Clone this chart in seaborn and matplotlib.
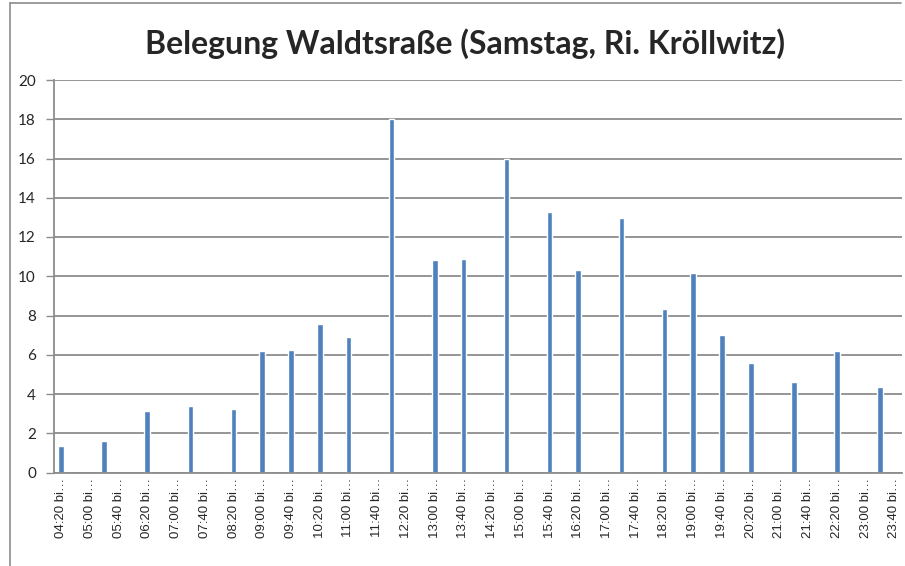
"""
Belegung Waldtstraße, Samstag, Richtung Kröllwitz – Balken je 20-Minuten-Slot.
"""

import matplotlib
matplotlib.use("Agg")
import matplotlib.pyplot as plt
import seaborn as sns
import pandas as pd

# Alle Slots (20 Minuten) von 04:20 bis 23:40
slots = [f"{(260 + 20 * i) // 60:02d}:{(260 + 20 * i) % 60:02d}" for i in range(59)]

# Slots mit Messwert und deren Belegung
bar_slots = [
    "04:20", "05:20", "06:20", "07:20", "08:20", "09:00", "09:40", "10:20",
    "11:00", "12:00", "13:00", "13:40", "14:40", "15:40", "16:20", "17:20",
    "18:20", "19:00", "19:40", "20:20", "21:20", "22:20", "23:20",
]
bar_values = [
    1.34, 1.63, 3.15, 3.39, 3.22, 6.17, 6.26, 7.58,
    6.9, 18.0, 10.82, 10.89, 16.0, 13.28, 10.33, 12.99,
    8.34, 10.17, 7.0, 5.56, 4.6, 6.19, 4.34,
]

y_ticks = [0, 2, 4, 6, 8, 10, 12, 14, 16, 18, 20]

df = pd.DataFrame({"slot": bar_slots, "belegung": bar_values})

grid_col = "#8c8c8c"
bar_col = "#4F81BD"

sns.set_style("white")
plt.rcParams["font.family"] = ["Lato", "DejaVu Sans"]

fig = plt.figure(figsize=(9.05, 5.66), dpi=100)
ax = fig.add_axes([54 / 905, 1 - 472.5 / 566, (901.5 - 54) / 905, (472.5 - 80) / 566])

sns.barplot(
    data=df, x="slot", y="belegung", order=slots,
    width=0.4, color=bar_col, saturation=1, ax=ax,
)

ax.set_xlim(-0.5, len(slots) - 0.5)
ax.set_ylim(0, 20)
ax.set_yticks(y_ticks)
ax.set_yticklabels([str(v) for v in y_ticks], fontsize=11)
ax.yaxis.grid(True, color=grid_col, linewidth=1.3)
ax.set_axisbelow(True)

# Beschriftung jedes zweiten Slots, Striche zwischen den Kategorien
ax.set_xticks(range(0, len(slots), 2))
ax.set_xticklabels([s + " bi…" for s in slots[::2]], rotation=90,
                   fontsize=9.5, family=["Liberation Sans", "DejaVu Sans"])
ax.set_xticks([i - 0.5 for i in range(0, len(slots), 2)], minor=True)
ax.tick_params(axis="x", which="major", length=0, pad=4)
ax.tick_params(axis="x", which="minor", length=4, color=grid_col, width=1)
ax.tick_params(axis="y", length=6, color=grid_col, width=1, pad=7, left=True)

for side in ["top", "right"]:
    ax.spines[side].set_visible(False)
for side in ["left", "bottom"]:
    ax.spines[side].set_color(grid_col)
    ax.spines[side].set_linewidth(1.3)

ax.set_xlabel("")
ax.set_ylabel("")

fig.text(465 / 905, 1 - 54 / 566, "Belegung Waldtsraße (Samstag, Ri. Kröllwitz)",
         ha="center", va="baseline", fontsize=23, fontweight="bold")

# Rahmen des Diagrammbereichs (oben und links sichtbar)
fig.add_artist(plt.Line2D([10 / 905, 901 / 905], [1 - 3 / 566, 1 - 3 / 566],
                          color=grid_col, linewidth=1.2))
fig.add_artist(plt.Line2D([10 / 905, 10 / 905], [1 - 3 / 566, 0],
                          color=grid_col, linewidth=1.2))

fig.savefig("out.png", dpi=100)
